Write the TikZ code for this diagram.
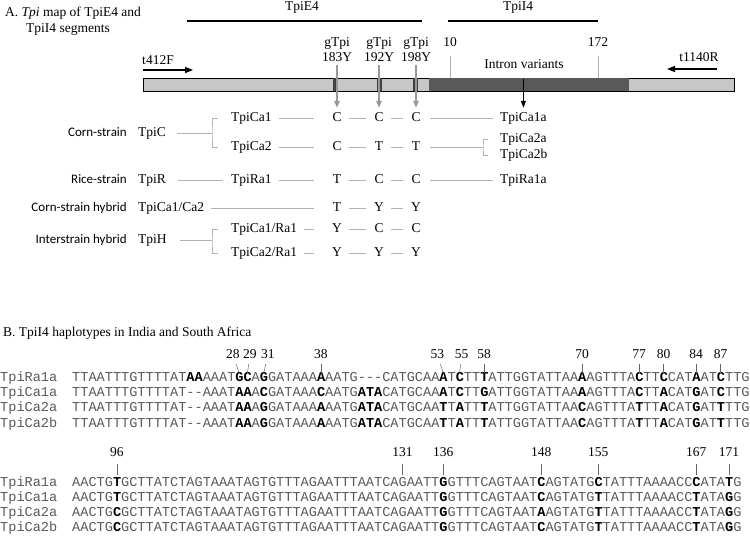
\documentclass[tikz,border=0pt]{standalone}
\usepackage{fontspec}
\setmainfont{Liberation Serif}
\setsansfont{Carlito}
\newfontfamily\seqfont{Liberation Mono}[Ligatures=TeXOff]
\usetikzlibrary{arrows.meta}

\newcommand\snp[1]{{\bfseries\color{black}#1}}
\newcommand\txtsize{\fontsize{13.5}{16}\selectfont}

\tikzset{
  txt/.style={font=\txtsize, inner sep=1pt, text height=9.5pt, text depth=2.5pt},
  grp/.style={txt, font=\sffamily\fontsize{13}{16}\selectfont, anchor=east},
  nt/.style={txt, minimum width=18pt, inner sep=0pt},
  gline/.style={draw=gray!60, line width=0.8pt},
  short/.style={gline, shorten <=3pt, shorten >=4pt},
  into/.style={gline, shorten <=6pt, shorten >=14pt},
  outof/.style={gline, shorten <=5pt, shorten >=6pt},
  seq/.style={font=\seqfont\fontsize{13.6}{15}\selectfont, text=black!65, inner sep=0pt, anchor=base west},
  stem/.style={draw=black!60, line width=0.5pt},
  snparrow/.style={draw=black!40, line width=1.5pt, -{Triangle[length=7pt,width=5.5pt]}},
  primer/.style={line width=1.4pt, -{Triangle[length=8pt,width=6pt]}}
}

\begin{document}
\begin{tikzpicture}[x=1pt,y=-1pt]
  \useasboundingbox (0,0) rectangle (750,544);
  % A. map of the segments
  \node[txt, anchor=west] (titleA) at (4,13) {A. \textit{Tpi} map of TpiE4 and};
  \node[txt, anchor=west] (titleA2) at (25,29) {TpiI4 segments};
  \node[txt] (e4) at (302,7) {TpiE4};
  \node[txt] (i4) at (518,7) {TpiI4};
  \draw[line width=1.6pt] (187,21) -- (422,21);
  \draw[line width=1.6pt] (448,21) -- (598,21);

  % gene bar
  \draw[fill=black!22, line width=0.8pt] (143,78) rectangle (734,91);
  \fill[black!65] (429,78.4) rectangle (629,90.6);
  \foreach \x in {335.5,379.5,415.5}
    \fill[black!75] (\x-2.5,78.4) rectangle (\x+2.5,90.6);

  % primers
  \node[txt] (t412) at (158,61) {t412F};
  \node[txt] (t1140) at (699,58) {t1140R};
  \draw[primer] (143,70) -- (193,70);
  \draw[primer] (717,69) -- (667,69);

  % intron
  \node[txt] (s10) at (450,43) {10};
  \node[txt] (s172) at (598,43) {172};
  \draw[gline, line width=0.6pt, shorten <=6pt] (s10.south) -- (450,78);
  \draw[gline, line width=0.6pt, shorten <=6pt] (s172.south) -- (598,78);
  \node[txt] (intron) at (524,65) {Intron variants};

  % groups
  \node[grp] (cs) at (128,133) {Corn-strain};
  \node[grp] (rs) at (128,180) {Rice-strain};
  \node[grp] (ch) at (128,208) {Corn-strain hybrid};
  \node[grp] (ih) at (128,240) {Interstrain hybrid};
  \node[txt, anchor=west] (tpiC) at (137,133) {TpiC};
  \node[txt, anchor=west] (tpiR) at (137,180) {TpiR};
  \node[txt, anchor=west] (tpiCC) at (137,208) {TpiCa1/Ca2};
  \node[txt, anchor=west] (tpiH) at (137,240) {TpiH};
  \node[txt, anchor=west] (ca1) at (230,118) {TpiCa1};
  \node[txt, anchor=west] (ca2) at (230,147) {TpiCa2};
  \node[txt, anchor=west] (ra1) at (230,180) {TpiRa1};
  \node[txt, anchor=west] (cr1) at (230,229) {TpiCa1/Ra1};
  \node[txt, anchor=west] (cr2) at (230,253) {TpiCa2/Ra1};

  % alleles
  \foreach \r/\y/\a/\b/\c in {ca1/118/C/C/C, ca2/147/C/T/T, ra1/180/T/C/C, cc/208/T/Y/Y, cr1/229/Y/C/C, cr2/253/Y/Y/Y}{
    \node[nt] (\r1) at (337,\y) {\a};
    \node[nt] (\r2) at (379,\y) {\b};
    \node[nt] (\r3) at (416,\y) {\c};
    \draw[short] (\r1) -- (\r2);
    \draw[short] (\r2) -- (\r3);
  }

  % haplotypes
  \node[txt, anchor=west] (h1a) at (499,118) {TpiCa1a};
  \node[txt, anchor=west] (h2a) at (499,139) {TpiCa2a};
  \node[txt, anchor=west] (h2b) at (499,155) {TpiCa2b};
  \node[txt, anchor=west] (hr1a) at (499,180) {TpiRa1a};

  % connectors
  \coordinate (kC) at (212,133);
  \coordinate (kH) at (212,241);
  \coordinate (kR) at (483,147);
  \draw[gline, shorten <=10pt] (tpiC) -- (tpiC -| kC);
  \draw[gline] ([xshift=-12pt]ca1.west) -| (kC) |- ([xshift=-12pt]ca2.west);
  \draw[gline, shorten <=12pt] (tpiH) -- (tpiH -| kH);
  \draw[gline] ([xshift=-12pt]cr1.west) -| (kH) |- ([xshift=-12pt]cr2.west);
  \draw[gline, shorten <=11pt, shorten >=7pt] (tpiR) -- (ra1);
  \foreach \s/\t in {ca1/ca11, ca2/ca21, ra1/ra11, tpiCC/cc1, cr1/cr11, cr2/cr21}
    \draw[into] (\s) -- (\t);
  \foreach \s/\t in {ca13/h1a, ra13/hr1a}
    \draw[outof] (\s) -- (\t);
  \draw[gline, shorten <=5pt] (ca23) -- (kR);
  \draw[gline] ([xshift=-11pt]h2a.west) -| (kR) |- ([xshift=-11pt]h2b.west);

  % SNP sites
  \foreach \n/\x/\t in {183/337/ca11, 192/379/ca12, 198/416/ca13}{
    \node[txt] (g\n) at (\x,43) {gTpi};
    \node[txt] (y\n) at (\x,58) {\n Y};
    \draw[snparrow, shorten >=4pt] (y\n) -- (\t);
  }
  \coordinate (iv) at (h1a.north |- 0,79);
  \draw[line width=1pt, -{Triangle[length=7pt,width=5pt]}, shorten >=3pt] (iv) -- (h1a.north);

  % B. haplotypes
  \node[txt, anchor=west] (titleB) at (2,333) {B. TpiI4 haplotypes in India and South Africa};

  \node[seq] (nR1) at (0,381) {TpiRa1a};
  \node[seq] (nC1) at (0,396) {TpiCa1a};
  \node[seq] (nC2) at (0,411) {TpiCa2a};
  \node[seq] (nC3) at (0,427) {TpiCa2b};
  \node[seq] (sR1) at (72,381) {TTAATTTGTTTTAT\snp{AA}AAAT\snp{GC}A\snp{G}GATAAA\snp{A}AATG---CATGCAA\snp{A}T\snp{C}TT\snp{T}ATTGGTATTAA\snp{A}AGTTTA\snp{C}TT\snp{C}CAT\snp{A}AT\snp{C}TTG};
  \node[seq] (sC1) at (72,396) {TTAATTTGTTTTAT--AAAT\snp{AA}A\snp{C}GATAAA\snp{C}AATG\snp{ATA}CATGCAA\snp{A}T\snp{C}TT\snp{G}ATTGGTATTAA\snp{A}AGTTTA\snp{C}TT\snp{A}CAT\snp{G}AT\snp{C}TTG};
  \node[seq] (sC2) at (72,411) {TTAATTTGTTTTAT--AAAT\snp{AA}A\snp{G}GATAAA\snp{A}AATG\snp{ATA}CATGCAA\snp{T}T\snp{A}TT\snp{T}ATTGGTATTAA\snp{C}AGTTTA\snp{T}TT\snp{A}CAT\snp{G}AT\snp{T}TTG};
  \node[seq] (sC3) at (72,427) {TTAATTTGTTTTAT--AAAT\snp{AA}A\snp{G}GATAAA\snp{A}AATG\snp{ATA}CATGCAA\snp{T}T\snp{A}TT\snp{T}ATTGGTATTAA\snp{C}AGTTTA\snp{T}TT\snp{A}CAT\snp{G}AT\snp{T}TTG};

  \foreach \p/\n/\dx in {21/28/-6.5, 22/29/2.5, 24/31/4, 31/38/0, 46/53/-6, 48/55/2, 51/58/0, 63/70/0, 70/77/0, 73/80/0, 77/84/0, 80/87/0}{
    \pgfmathsetmacro{\xc}{72+(\p-0.5)*8.16}
    \pgfmathsetmacro{\xl}{\xc+\dx}
    \node[txt] (k\n) at (\xl,355) {\n};
    \coordinate (b\n) at (\xc,373);
    \draw[stem, shorten <=2pt] (k\n) -- (b\n);
  }

  \node[seq] (mR1) at (0,486) {TpiRa1a};
  \node[seq] (mC1) at (0,501) {TpiCa1a};
  \node[seq] (mC2) at (0,516) {TpiCa2a};
  \node[seq] (mC3) at (0,531) {TpiCa2b};
  \node[seq] (tR1) at (72,486) {AACTG\snp{T}GCTTATCTAGTAAATAGTGTTTAGAATTTAATCAGAATT\snp{G}GTTTCAGTAAT\snp{C}AGTATG\snp{C}TATTTAAAACC\snp{C}ATA\snp{T}G};
  \node[seq] (tC1) at (72,501) {AACTG\snp{T}GCTTATCTAGTAAATAGTGTTTAGAATTTAATCAGAATT\snp{G}GTTTCAGTAAT\snp{C}AGTATG\snp{T}TATTTAAAACC\snp{T}ATA\snp{G}G};
  \node[seq] (tC2) at (72,516) {AACTG\snp{C}GCTTATCTAGTAAATAGTGTTTAGAATTTAATCAGAATT\snp{G}GTTTCAGTAAT\snp{A}AGTATG\snp{T}TATTTAAAACC\snp{T}ATA\snp{G}G};
  \node[seq] (tC3) at (72,531) {AACTG\snp{C}GCTTATCTAGTAAATAGTGTTTAGAATTTAATCAGAATT\snp{G}GTTTCAGTAAT\snp{C}AGTATG\snp{T}TATTTAAAACC\snp{T}ATA\snp{G}G};

  \foreach \p/\n in {6/96, 41/131, 46/136, 58/148, 65/155, 77/167, 81/171}{
    \pgfmathsetmacro{\xc}{72+(\p-0.5)*8.16}
    \node[txt] (k\n) at (\xc,453) {\n};
    \coordinate (b\n) at (\xc,475);
    \draw[stem, shorten <=4pt] (k\n) -- (b\n);
  }
\end{tikzpicture}
\end{document}
